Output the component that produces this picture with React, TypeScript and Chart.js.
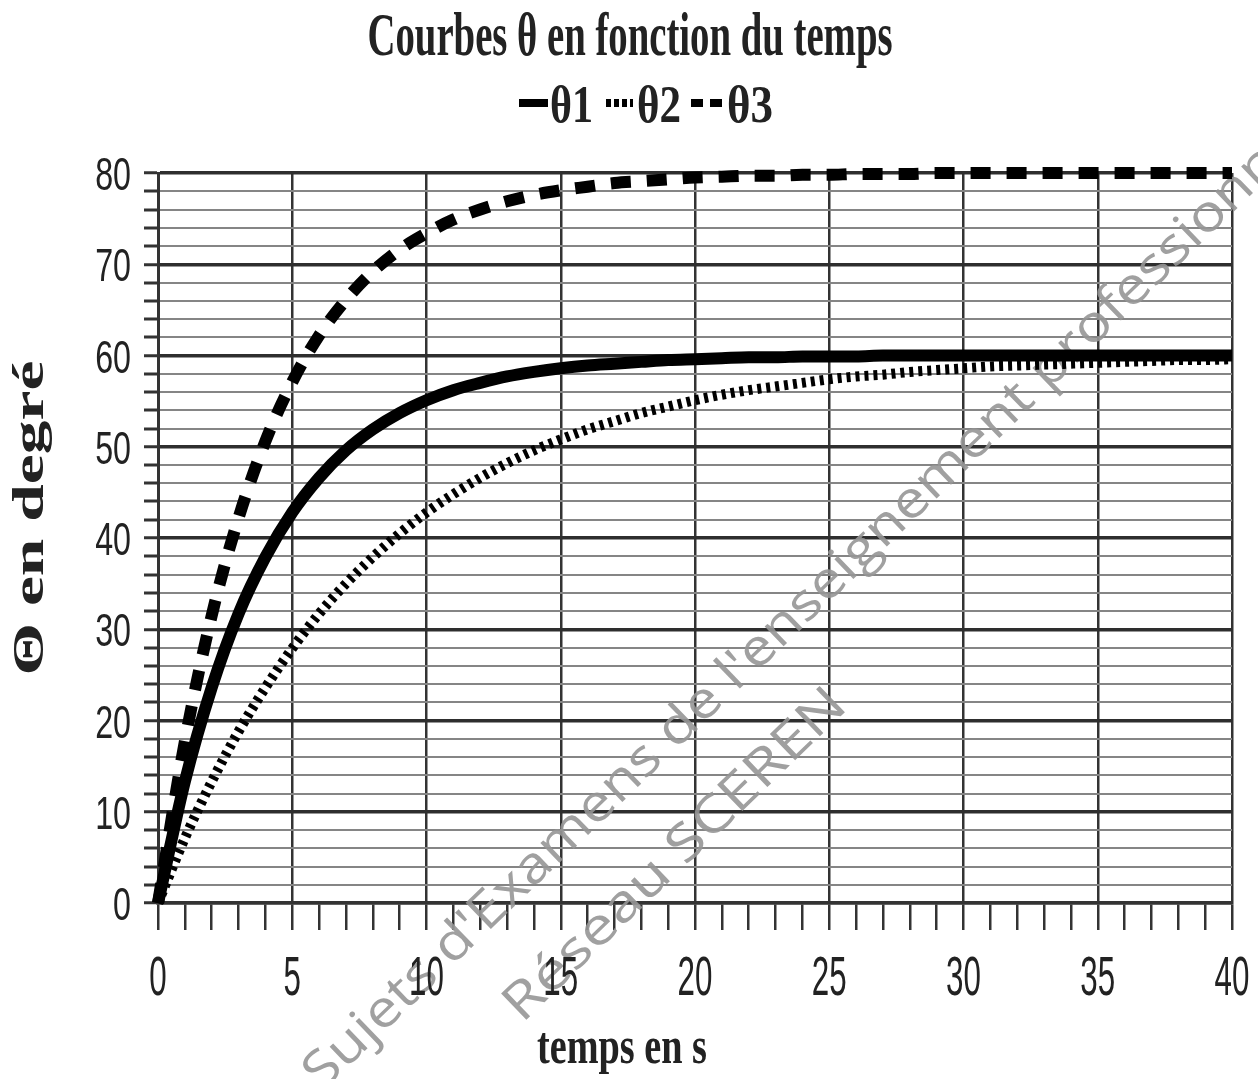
import React, { useEffect, useRef } from 'react';
import { Chart, registerables } from 'chart.js';

Chart.register(...registerables);

// ---- data ----
const timeS = [0, 1, 2, 3, 4, 5, 6, 7, 8, 9, 10, 11, 12, 13, 14, 15, 16, 17, 18, 19, 20, 21, 22, 23, 24, 25, 26, 27, 28, 29, 30, 31, 32, 33, 34, 35, 36, 37, 38, 39, 40];
const theta1 = [0, 13.3, 23.6, 31.7, 37.9, 42.8, 46.6, 49.6, 51.9, 53.7, 55.1, 56.2, 57.0, 57.7, 58.2, 58.6, 58.9, 59.1, 59.3, 59.5, 59.6, 59.7, 59.8, 59.8, 59.9, 59.9, 59.9, 60, 60, 60, 60, 60, 60, 60, 60, 60, 60, 60, 60, 60, 60];
const theta2 = [0, 7.1, 13.3, 18.8, 23.6, 27.9, 31.7, 35.0, 37.9, 40.5, 42.8, 44.8, 46.6, 48.2, 49.6, 50.8, 51.9, 52.8, 53.7, 54.4, 55.1, 55.7, 56.2, 56.6, 57.0, 57.4, 57.7, 57.9, 58.2, 58.4, 58.6, 58.8, 58.9, 59.0, 59.1, 59.2, 59.3, 59.4, 59.5, 59.5, 59.6];
const theta3 = [0, 17.7, 31.5, 42.2, 50.6, 57.1, 62.2, 66.1, 69.2, 71.6, 73.4, 74.9, 76.0, 76.9, 77.6, 78.1, 78.5, 78.9, 79.1, 79.3, 79.5, 79.6, 79.7, 79.7, 79.8, 79.8, 79.9, 79.9, 79.9, 80, 80, 80, 80, 80, 80, 80, 80, 80, 80, 80, 80];
const seriesLabels = ['θ1', 'θ2', 'θ3'];
const xTickLabels = ['0', '5', '10', '15', '20', '25', '30', '35', '40'];
const yTickLabels = ['0', '10', '20', '30', '40', '50', '60', '70', '80'];
const titleText = 'Courbes θ en fonction du temps';
const xTitleText = 'temps en s';
const yTitleText = 'Θ en degré';
const watermarkLine1 = "Sujets d'Examens de l'enseignement professionnel";
const watermarkLine2 = 'Réseau SCEREN';

const SERIF = '"Liberation Serif", "Times New Roman", serif';
const SANS = '"Liberation Sans", Arial, sans-serif';

function fitText(
  ctx: CanvasRenderingContext2D,
  text: string,
  font: string,
  x: number,
  y: number,
  targetW: number,
  align: CanvasTextAlign,
  color: string,
  rot = 0,
  measureText?: string
) {
  ctx.save();
  ctx.font = font;
  const w = ctx.measureText(measureText ?? text).width;
  const sx = targetW / w;
  ctx.translate(x, y);
  if (rot) ctx.rotate(rot);
  ctx.scale(sx, 1);
  ctx.textAlign = align;
  ctx.textBaseline = 'alphabetic';
  ctx.fillStyle = color;
  ctx.fillText(text, 0, 0);
  ctx.restore();
}

function scaledText(
  ctx: CanvasRenderingContext2D,
  text: string,
  font: string,
  x: number,
  y: number,
  sx: number,
  align: CanvasTextAlign,
  color: string
) {
  ctx.save();
  ctx.font = font;
  ctx.translate(x, y);
  ctx.scale(sx, 1);
  ctx.textAlign = align;
  ctx.textBaseline = 'alphabetic';
  ctx.fillStyle = color;
  ctx.fillText(text, 0, 0);
  ctx.restore();
}

export default function App() {
  const ref = useRef<HTMLCanvasElement>(null);

  useEffect(() => {
    document.body.style.margin = '0';
    const canvas = ref.current;
    if (!canvas) return;

    const textPlugin = {
      id: 'customTexts',
      beforeDatasetsDraw(chart: any) {
        const ctx: CanvasRenderingContext2D = chart.ctx;
        const ang = (-44 * Math.PI) / 180;
        const wmFont = '400 51px "Open Sans", Lato, sans-serif';
        const wmColor = 'rgba(150,150,150,0.9)';
        fitText(ctx, watermarkLine1, wmFont, 322, 1092, 1335, 'left', wmColor, ang,
          watermarkLine1.slice(0, watermarkLine1.length - 2));
        fitText(ctx, watermarkLine2, wmFont, 522, 1024, 455, 'left', wmColor, ang);
      },
      afterDraw(chart: any) {
        const ctx: CanvasRenderingContext2D = chart.ctx;
        const xs = chart.scales.x;
        const ys = chart.scales.y;
        const dark = '#222';

        // title
        fitText(ctx, titleText, `bold 62px ${SERIF}`, 630, 55, 525, 'center', dark);

        // legend
        const items = [
          { x0: 519, x1: 548, tx: 550, tw: 43 },
          { x0: 606, x1: 633, tx: 637, tw: 44 },
          { x0: 691, x1: 723, tx: 727, tw: 46 },
        ];
        const legendDash = [[], [5, 3], [12, 7]];
        items.forEach((it, i) => {
          ctx.save();
          ctx.strokeStyle = '#000';
          ctx.lineWidth = 8;
          ctx.lineCap = 'butt';
          ctx.setLineDash(legendDash[i]);
          ctx.beginPath();
          ctx.moveTo(it.x0, 103);
          ctx.lineTo(it.x1, 103);
          ctx.stroke();
          ctx.restore();
          fitText(ctx, seriesLabels[i], `bold 52px ${SERIF}`, it.tx, 122, it.tw, 'left', dark);
        });

        // x tick labels
        xTickLabels.forEach((lab) => {
          const px = xs.getPixelForValue(Number(lab));
          scaledText(ctx, lab, `56px ${SANS}`, px, 995, 0.56, 'center', dark);
        });
        // y tick labels
        yTickLabels.forEach((lab) => {
          const py = ys.getPixelForValue(Number(lab));
          scaledText(ctx, lab, `46px ${SANS}`, 131, py + 17, 0.7, 'right', dark);
        });

        // axis titles
        fitText(ctx, xTitleText, `bold 52px ${SERIF}`, 622, 1063, 170, 'center', dark);
        fitText(ctx, yTitleText, `bold 44px ${SERIF}`, 43, 518, 315, 'center', dark, -Math.PI / 2);
      },
    };

    const mk = (vals: number[]) => timeS.map((t, i) => ({ x: t, y: vals[i] }));

    const chart = new Chart(canvas, {
      type: 'line',
      data: {
        datasets: [
          {
            label: seriesLabels[0],
            data: mk(theta1),
            borderColor: '#000',
            borderWidth: 12,
            pointRadius: 0,
            cubicInterpolationMode: 'monotone',
            clip: false as any,
            fill: false,
          },
          {
            label: seriesLabels[1],
            data: mk(theta2),
            borderColor: '#000',
            borderWidth: 10,
            borderDash: [4, 5],
            pointRadius: 0,
            cubicInterpolationMode: 'monotone',
            clip: false as any,
            fill: false,
          },
          {
            label: seriesLabels[2],
            data: mk(theta3),
            borderColor: '#000',
            borderWidth: 12,
            borderDash: [20, 16],
            pointRadius: 0,
            cubicInterpolationMode: 'monotone',
            clip: false as any,
            fill: false,
          },
        ],
      },
      options: {
        animation: false,
        responsive: false,
        maintainAspectRatio: false,
        devicePixelRatio: 1,
        layout: { padding: { top: 173, right: 26, left: 0, bottom: 0 } },
        plugins: {
          legend: { display: false },
          title: { display: false },
          tooltip: { enabled: false },
        },
        scales: {
          x: {
            type: 'linear',
            min: 0,
            max: 40,
            ticks: { display: false, stepSize: 1, maxTicksLimit: 100, autoSkip: false },
            grid: {
              color: (c: any) => (c.tick && c.tick.value % 5 === 0 ? '#333' : 'rgba(0,0,0,0)'),
              lineWidth: 2.5,
              tickColor: '#333',
              tickWidth: 2.5,
              tickLength: 27,
              drawTicks: true,
            },
            border: { display: true, color: '#333', width: 3.5 },
            afterFit: (s: any) => {
              s.height = 176;
            },
          },
          y: {
            type: 'linear',
            min: 0,
            max: 80,
            ticks: { display: false, stepSize: 2, maxTicksLimit: 100, autoSkip: false },
            grid: {
              color: (c: any) => (c.tick && c.tick.value % 10 === 0 ? '#2e2e2e' : '#858585'),
              lineWidth: (c: any) => (c.tick && c.tick.value % 10 === 0 ? 3.5 : 2),
              tickColor: '#333',
              tickWidth: 3,
              tickLength: 14,
              drawTicks: true,
            },
            border: { display: true, color: '#333', width: 3 },
            afterFit: (s: any) => {
              s.width = 158;
            },
          },
        },
      },
      plugins: [textPlugin],
    } as any);

    return () => chart.destroy();
  }, []);

  return (
    <div style={{ width: 1258, height: 1079, background: '#fff' }}>
      <canvas ref={ref} width={1258} height={1079} style={{ display: 'block' }} />
    </div>
  );
}
